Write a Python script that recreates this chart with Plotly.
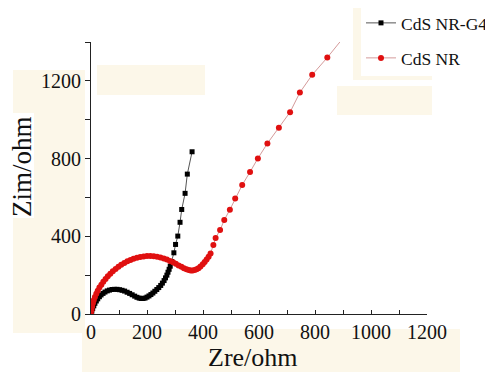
import plotly.graph_objects as go

# CdS NR-G4 (black squares)
g4_x = [0, 3, 6, 10, 14, 19, 24, 30, 36, 43, 50, 58, 66, 75, 84, 93, 102, 111, 120, 129,
        138, 147, 156, 164, 172, 179, 186, 193, 200, 207, 214, 221, 228, 235, 242, 249,
        255, 261, 266, 271, 275, 279, 283, 288, 296, 302, 310, 318, 324, 336, 344, 361]
g4_y = [0, 15, 28, 42, 55, 67, 78, 89, 98, 106, 113, 119, 123, 126, 127, 127, 125, 122, 118, 112,
        106, 99, 92, 86, 82, 80, 80, 82, 87, 93, 100, 108, 117, 126, 136, 147,
        159, 172, 186, 200, 215, 230, 246, 270, 315, 358, 401, 472, 538, 621, 720, 835]

# CdS NR (red circles)
nr_x = [0, 2, 4, 7, 10, 14, 19, 24, 30, 37, 44, 52, 60, 69, 78, 88, 98, 108, 119, 130,
        141, 152, 164, 176, 188, 200, 212, 224, 236, 248, 260, 271, 282, 293, 303, 313,
        323, 332, 341, 349, 356, 363, 370, 377, 384, 391, 399, 406, 413, 420, 427, 437,
        445, 461, 476, 496, 515, 540, 568, 596, 630, 671, 711, 746, 790, 844, 900]
nr_y = [0, 20, 38, 56, 72, 88, 104, 120, 136, 151, 166, 180, 194, 207, 220, 232, 243, 253, 262, 271,
        278, 284, 289, 293, 296, 298, 298, 297, 295, 291, 286, 280, 273, 266, 258, 250,
        243, 236, 230, 226, 224, 224, 226, 230, 236, 244, 256, 268, 281, 295, 312, 355,
        391, 432, 484, 537, 595, 664, 731, 801, 878, 958, 1039, 1140, 1231, 1320, 1420]

series_names = ["CdS NR-G4", "CdS NR"]
x_ticks = [0, 200, 400, 600, 800, 1000, 1200]
y_ticks = [0, 400, 800, 1200]
x_title = "Zre/ohm"
y_title = "Zim/ohm"

# page body has an 8px margin: work in window pixels, convert to figure pixels
OFF = 8
W, H = 493 - OFF, 372 - OFF
L, R, T, B = 91 - OFF, 427 - OFF, 42 - OFF, 314 - OFF
FONT = "Liberation Serif, Times New Roman, serif"
BEIGE = "#fcf7e9"

def px(x):
    return (x - OFF - L) / (R - L)

def py(y):
    return (B - (y - OFF)) / (B - T)

fig = go.Figure()
fig.add_trace(go.Scatter(
    x=g4_x, y=g4_y, mode="lines+markers", name=series_names[0],
    line=dict(color="#555555", width=1),
    marker=dict(symbol="square", size=5, color="#000000"),
    legend="legend"))
fig.add_trace(go.Scatter(
    x=nr_x, y=nr_y, mode="lines+markers", name=series_names[1],
    line=dict(color="#d49a9a", width=1),
    marker=dict(symbol="circle", size=6, color="#e01010"),
    legend="legend2"))

shapes = []
def rect(x0, y0, x1, y1, color=BEIGE):
    shapes.append(dict(type="rect", xref="paper", yref="paper",
                       x0=px(x0), x1=px(x1), y0=py(y1), y1=py(y0),
                       fillcolor=color, line=dict(width=0), layer="below"))

rect(13, 70, 85, 333)
rect(10, 113, 34, 218, "white")
rect(97, 65, 205, 95)
rect(82, 329, 460, 372)
rect(353, 8, 432, 80)
rect(337, 86, 432, 115)

annotations = [
    dict(text=x_title, xref="paper", yref="paper", x=px(253), y=py(357),
         xanchor="center", yanchor="middle", showarrow=False,
         font=dict(size=26, family=FONT, color="#111111")),
    dict(text=y_title, xref="paper", yref="paper", x=px(22), y=py(167),
         xanchor="center", yanchor="middle", showarrow=False, textangle=-90,
         font=dict(size=27, family=FONT, color="#111111")),
]

fig.update_layout(
    width=W, height=H,
    margin=dict(l=L, r=W - R, t=T, b=H - B, autoexpand=False),
    paper_bgcolor="white", plot_bgcolor="white",
    font=dict(family=FONT, color="#111111"),
    shapes=shapes,
    annotations=annotations,
    showlegend=True,
    legend=dict(x=px(361), y=py(23), xanchor="left", yanchor="middle",
                bgcolor="white", font=dict(size=17.5, family=FONT),
                borderwidth=0, itemwidth=30),
    legend2=dict(x=px(361), y=py(58), xanchor="left", yanchor="middle",
                 bgcolor="white", font=dict(size=17.5, family=FONT),
                 borderwidth=0, itemwidth=30),
    xaxis=dict(range=[0, 1200], tickvals=x_ticks, ticktext=[str(v) for v in x_ticks],
               ticks="inside", ticklen=4, tickcolor="#222222",
               minor=dict(dtick=100, tick0=0, ticks="inside", ticklen=4, tickcolor="#222222"),
               showline=True, linecolor="#222222", linewidth=1,
               showgrid=False, zeroline=False, automargin=False,
               tickfont=dict(size=20, family=FONT, color="#111111")),
    yaxis=dict(range=[0, 1400], tickvals=y_ticks, ticktext=[str(v) for v in y_ticks],
               ticks="outside", ticklen=5, tickcolor="#222222",
               minor=dict(dtick=200, tick0=0, ticks="outside", ticklen=5, tickcolor="#222222"),
               showline=True, linecolor="#222222", linewidth=1,
               showgrid=False, zeroline=False, automargin=False,
               tickfont=dict(size=20, family=FONT, color="#111111")),
)

fig.write_html("out.html")
